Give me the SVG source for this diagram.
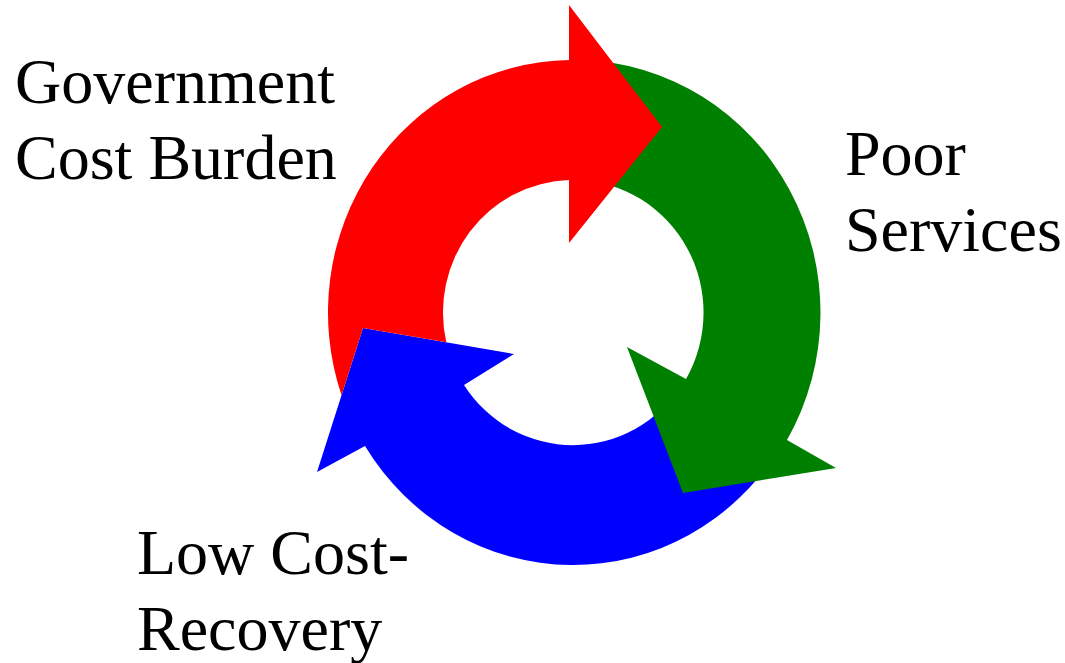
<svg xmlns="http://www.w3.org/2000/svg" width="1065" height="663" viewBox="0 0 1065 663">
<style>
.lbl{font-family:"Liberation Serif","Times New Roman",serif;font-size:64px;fill:#000}
.red{fill:#FF0000}
.green{fill:#008000}
.blue{fill:#0000FF}
</style>
<rect width="1065" height="663" fill="#FFFFFF"/>
<g id="connectors">
<path id="arrow-blue" class="blue" d="M 778.5 450 A 245 252.5 0 0 1 365 446 L 317 472 L 363 328 L 514 354 L 464 385 A 130 132.5 0 0 0 682 384.7 Z"/>
<path id="arrow-green" class="green" d="M 581.6 60.15 A 245 252.5 0 0 1 787 440 L 836 468 L 683 493 L 627 347 L 686 379 A 130 132.5 0 0 0 577.5 180.1 Z"/>
<path id="arrow-red" class="red" d="M 341.5 395.2 A 245 252.5 0 0 1 569 60.03 L 569 5 L 662 127 L 569 243 L 569 180.06 A 130 132.5 0 0 0 446.3 342.35 L 363 328 Z"/>
</g>
<g id="node-government">
<text class="lbl" x="15" y="103">Government</text>
<text class="lbl" x="15" y="179">Cost Burden</text>
</g>
<g id="node-poor-services">
<text class="lbl" x="845" y="175">Poor</text>
<text class="lbl" x="845" y="251">Services</text>
</g>
<g id="node-low-cost-recovery">
<text class="lbl" x="137" y="574">Low Cost-</text>
<text class="lbl" x="137" y="650">Recovery</text>
</g>
</svg>
